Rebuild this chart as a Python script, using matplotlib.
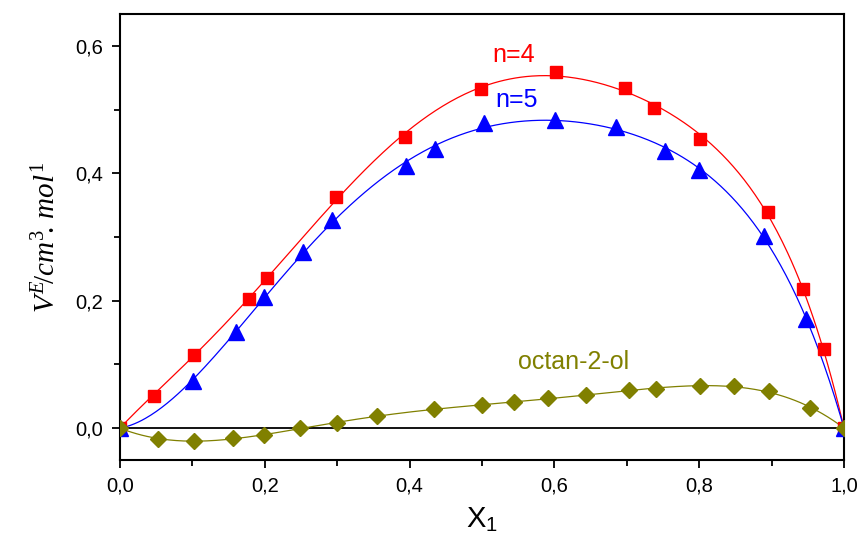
import numpy as np
import matplotlib
matplotlib.use("Agg")
import matplotlib.pyplot as plt
from matplotlib.ticker import MultipleLocator, FuncFormatter

plt.rcParams['font.family'] = ['Liberation Sans', 'DejaVu Sans']
plt.rcParams['mathtext.fontset'] = 'custom'
plt.rcParams['mathtext.it'] = 'Liberation Serif:italic'
plt.rcParams['mathtext.rm'] = 'Liberation Serif'
plt.rcParams['mathtext.sf'] = 'Liberation Sans'

# n=4 (red squares)
x_n4 = [0.0, 0.047, 0.102, 0.178, 0.203, 0.298, 0.394, 0.499, 0.602, 0.698, 0.738, 0.801, 0.895, 0.943, 0.972, 1.0]
y_n4 = [0.0, 0.050, 0.115, 0.203, 0.236, 0.363, 0.457, 0.532, 0.559, 0.534, 0.503, 0.454, 0.339, 0.218, 0.124, 0.0]

# n=5 (blue triangles)
x_n5 = [0.0, 0.101, 0.160, 0.199, 0.253, 0.293, 0.395, 0.435, 0.503, 0.601, 0.685, 0.753, 0.800, 0.890, 0.948, 1.0]
y_n5 = [0.0, 0.074, 0.151, 0.206, 0.276, 0.327, 0.411, 0.438, 0.479, 0.484, 0.473, 0.435, 0.405, 0.302, 0.171, 0.0]

# octan-2-ol (olive diamonds)
x_oct = [0.0, 0.052, 0.102, 0.156, 0.199, 0.249, 0.300, 0.355, 0.434, 0.500, 0.544, 0.591, 0.644, 0.703,
         0.740, 0.801, 0.848, 0.896, 0.953, 1.0]
y_oct = [0.0, -0.017, -0.020, -0.016, -0.011, 0.0, 0.008, 0.019, 0.030, 0.036, 0.041, 0.047, 0.052, 0.060,
         0.061, 0.066, 0.066, 0.058, 0.031, 0.0]

x_ticks = [0.0, 0.2, 0.4, 0.6, 0.8, 1.0]
y_ticks = [0.0, 0.2, 0.4, 0.6]


def rk_fit(x, y, order):
    """Redlich-Kister least-squares fit to the measured points."""
    x = np.asarray(x)
    y = np.asarray(y)
    A = np.column_stack([x * (1 - x) * (2 * x - 1) ** k for k in range(order)])
    coef, *_ = np.linalg.lstsq(A, y, rcond=None)
    xs = np.linspace(0, 1, 400)
    ys = sum(c * xs * (1 - xs) * (2 * xs - 1) ** k for k, c in enumerate(coef))
    return xs, ys


fig = plt.figure(figsize=(8.6, 5.35), dpi=100)
ax = fig.add_axes([0.1395, 0.1402, 0.8419, 0.8336])

red, blue, olive = '#FF0000', '#0000FF', '#808000'

for x, y, c, m, ms, order in [
    (x_n4, y_n4, red, 's', 8.5, 5),
    (x_n5, y_n5, blue, '^', 11, 5),
    (x_oct, y_oct, olive, 'D', 8.5, 6),
]:
    xs, ys = rk_fit(x, y, order)
    ax.plot(xs, ys, color=c, lw=0.9, zorder=2)
    ax.plot(x, y, linestyle='none', marker=m, color=c, markersize=ms, zorder=3)

ax.axhline(0, color='black', lw=1.3, zorder=1)

ax.set_xlim(0, 1.0)
ax.set_ylim(-0.05, 0.65)
ax.set_xticks(x_ticks)
ax.set_yticks(y_ticks)
ax.xaxis.set_minor_locator(MultipleLocator(0.1))
ax.yaxis.set_minor_locator(MultipleLocator(0.1))
fmt = FuncFormatter(lambda v, p: f"{v:.1f}".replace('.', ','))
ax.xaxis.set_major_formatter(fmt)
ax.yaxis.set_major_formatter(fmt)
ax.tick_params(which='both', direction='out', width=1.3, labelsize=14.5, top=False, right=False)
ax.tick_params(which='major', length=6)
ax.tick_params(which='minor', length=4)
ax.tick_params(axis='x', which='major', pad=6)
ax.tick_params(axis='y', which='major', pad=6)
for s in ax.spines.values():
    s.set_linewidth(1.5)

ax.set_xlabel(r'$\mathsf{X_1}$', fontsize=21, labelpad=7)
ax.set_ylabel(r'$V^{E}\!/cm^{3}\!.\,mol^{1}$', fontsize=21, labelpad=10)

ax.text(0.544, 0.586, 'n=4', color=red, fontsize=18, ha='center', va='center')
ax.text(0.548, 0.515, 'n=5', color=blue, fontsize=18, ha='center', va='center')
ax.text(0.627, 0.104, 'octan-2-ol', color=olive, fontsize=18, ha='center', va='center')

fig.savefig('out.png', dpi=100)
